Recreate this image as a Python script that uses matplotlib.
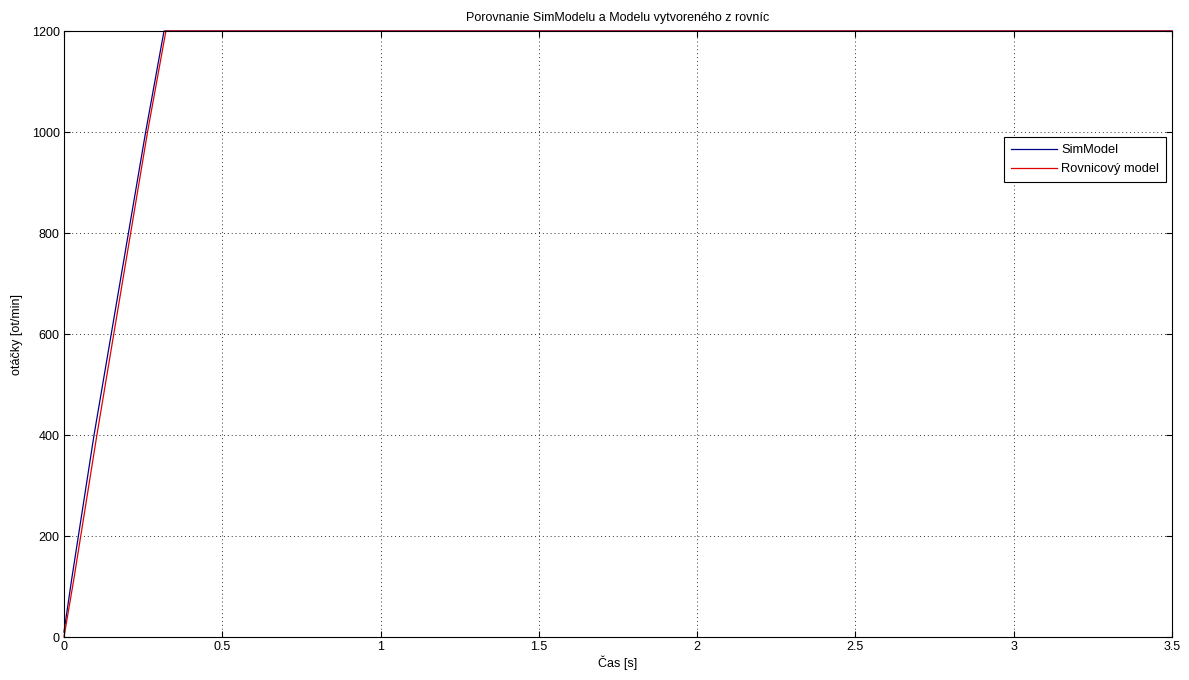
import matplotlib.pyplot as plt

# values
sim_t = [0.0, 0.024, 0.095, 0.258, 0.316, 3.5]
sim_n = [10, 113, 400, 1000, 1200, 1200]
rov_t = [0.0, 0.03, 0.104, 0.264, 0.322, 3.5]
rov_n = [0, 110, 400, 1000, 1200, 1200]

xticks = [0, 0.5, 1, 1.5, 2, 2.5, 3, 3.5]
xticklabels = ['0', '0.5', '1', '1.5', '2', '2.5', '3', '3.5']
yticks = [0, 200, 400, 600, 800, 1000, 1200]

plt.rcParams['font.family'] = ['Liberation Sans', 'DejaVu Sans']
plt.rcParams['font.size'] = 8

fig = plt.figure(figsize=(11.89, 6.8), dpi=100)
ax = fig.add_axes([0.0538, 0.0632, 0.9319, 0.8912])

ax.plot(sim_t, sim_n, color='#00008b', linewidth=0.9, label='SimModel', clip_on=False)
ax.plot(rov_t, rov_n, color='#e00000', linewidth=0.9, label='Rovnicový model', clip_on=False)

ax.set_xlim(0, 3.5)
ax.set_ylim(0, 1200)
ax.set_xticks(xticks)
ax.set_xticklabels(xticklabels)
ax.set_yticks(yticks)
ax.tick_params(direction='in', length=4, width=0.8, top=True, right=True,
               labelsize=9, pad=3)
ax.grid(True, linestyle=(0, (1, 3)), color='#333333', linewidth=0.7)
for s in ax.spines.values():
    s.set_linewidth(0.8)

ax.set_title('Porovnanie SimModelu a Modelu vytvoreného z rovníc', fontsize=9, pad=7)
ax.set_xlabel('Čas [s]', fontsize=9, labelpad=2)
ax.set_ylabel('otáčky [ot/min]', fontsize=9, labelpad=6)

leg = ax.legend(loc='upper right', bbox_to_anchor=(0.9946, 0.825), fontsize=9.3,
                fancybox=False, edgecolor='black', framealpha=1,
                borderaxespad=0, handlelength=3.6, borderpad=0.55,
                labelspacing=0.55, handletextpad=0.3)
leg.get_frame().set_linewidth(0.8)

plt.savefig('out.png', dpi=100)
